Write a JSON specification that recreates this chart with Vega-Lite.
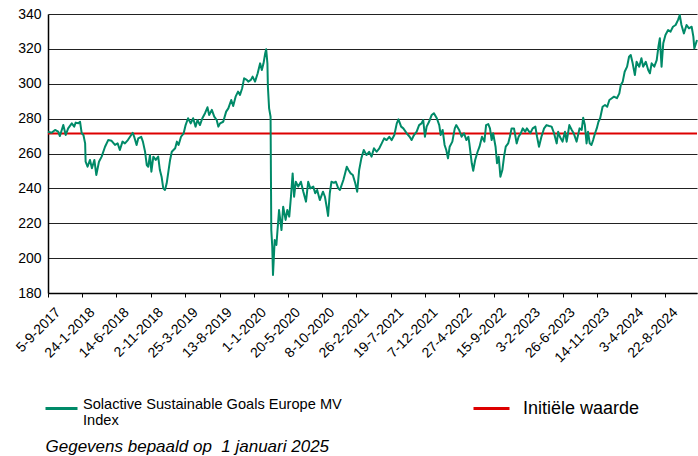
{
  "$schema": "https://vega.github.io/schema/vega-lite/v6.json",
  "width": 649,
  "height": 279,
  "autosize": "none",
  "padding": {"left": 48, "top": 14, "right": 1, "bottom": 163},
  "background": "white",
  "config": {
    "font": "Liberation Sans",
    "view": {"stroke": null}
  },
  "layer": [
    {
      "data": {"values": [{"label": "Initiële waarde", "value": 271.4}]},
      "mark": {"type": "rule", "strokeWidth": 2},
      "encoding": {
        "y": {
          "field": "value", "type": "quantitative",
          "scale": {"domain": [180, 340], "nice": false, "zero": false},
          "axis": {
            "values": [180, 200, 220, 240, 260, 280, 300, 320, 340],
            "title": null, "labelFontSize": 14, "labelColor": "#000", "labelPadding": 7,
            "tickSize": 0, "domainColor": "#000", "domainWidth": 1.5,
            "grid": true, "gridColor": "#222", "gridWidth": 1
          }
        },
        "color": {
          "field": "label", "type": "nominal",
          "scale": {"range": ["#DD0000"]},
          "legend": {
            "orient": "none", "legendX": 424, "legendY": 375, "title": null,
            "symbolType": "stroke", "symbolSize": 1296, "symbolStrokeWidth": 3,
            "labelFontSize": 18, "labelLimit": 300, "labelOffset": 12, "labelColor": "#000"
          }
        }
      }
    },
    {
      "data": {"values": [
        {"date": "2017-09-05", "value": 272.5},
        {"date": "2017-09-20", "value": 271.9},
        {"date": "2017-10-04", "value": 273.5},
        {"date": "2017-10-17", "value": 272.5},
        {"date": "2017-10-24", "value": 270.0},
        {"date": "2017-11-07", "value": 276.3},
        {"date": "2017-11-17", "value": 270.6},
        {"date": "2017-11-27", "value": 274.4},
        {"date": "2017-12-12", "value": 277.3},
        {"date": "2017-12-22", "value": 275.4},
        {"date": "2017-12-28", "value": 277.7},
        {"date": "2018-01-08", "value": 277.3},
        {"date": "2018-01-15", "value": 278.2},
        {"date": "2018-01-22", "value": 271.6},
        {"date": "2018-01-29", "value": 270.6},
        {"date": "2018-02-05", "value": 265.8},
        {"date": "2018-02-07", "value": 255.3},
        {"date": "2018-02-15", "value": 252.4},
        {"date": "2018-02-25", "value": 256.3},
        {"date": "2018-03-05", "value": 251.5},
        {"date": "2018-03-15", "value": 256.3},
        {"date": "2018-03-23", "value": 247.7},
        {"date": "2018-04-03", "value": 255.3},
        {"date": "2018-04-14", "value": 258.2},
        {"date": "2018-04-28", "value": 263.9},
        {"date": "2018-05-11", "value": 267.7},
        {"date": "2018-05-25", "value": 267.3},
        {"date": "2018-06-08", "value": 264.9},
        {"date": "2018-06-19", "value": 265.8},
        {"date": "2018-06-28", "value": 262.0},
        {"date": "2018-07-09", "value": 266.8},
        {"date": "2018-07-19", "value": 265.8},
        {"date": "2018-07-31", "value": 267.7},
        {"date": "2018-08-09", "value": 269.6},
        {"date": "2018-08-20", "value": 271.9},
        {"date": "2018-08-27", "value": 269.2},
        {"date": "2018-09-05", "value": 264.9},
        {"date": "2018-09-12", "value": 268.7},
        {"date": "2018-09-24", "value": 269.6},
        {"date": "2018-10-01", "value": 266.8},
        {"date": "2018-10-10", "value": 261.0},
        {"date": "2018-10-17", "value": 253.4},
        {"date": "2018-10-23", "value": 252.4},
        {"date": "2018-10-30", "value": 259.1},
        {"date": "2018-11-05", "value": 249.6},
        {"date": "2018-11-13", "value": 258.2},
        {"date": "2018-11-23", "value": 256.3},
        {"date": "2018-12-03", "value": 258.2},
        {"date": "2018-12-10", "value": 250.5},
        {"date": "2018-12-17", "value": 246.7},
        {"date": "2018-12-24", "value": 240.0},
        {"date": "2018-12-31", "value": 239.1},
        {"date": "2019-01-07", "value": 242.9},
        {"date": "2019-01-14", "value": 249.6},
        {"date": "2019-01-21", "value": 256.3},
        {"date": "2019-01-28", "value": 261.0},
        {"date": "2019-02-11", "value": 263.0},
        {"date": "2019-02-18", "value": 266.8},
        {"date": "2019-02-25", "value": 264.9},
        {"date": "2019-03-07", "value": 269.6},
        {"date": "2019-03-18", "value": 271.6},
        {"date": "2019-03-26", "value": 276.3},
        {"date": "2019-04-05", "value": 280.2},
        {"date": "2019-04-16", "value": 277.3},
        {"date": "2019-04-26", "value": 280.2},
        {"date": "2019-05-06", "value": 275.4},
        {"date": "2019-05-14", "value": 279.2},
        {"date": "2019-05-24", "value": 276.3},
        {"date": "2019-06-03", "value": 280.2},
        {"date": "2019-06-14", "value": 283.1},
        {"date": "2019-06-24", "value": 286.5},
        {"date": "2019-07-01", "value": 282.1},
        {"date": "2019-07-12", "value": 285.0},
        {"date": "2019-07-22", "value": 281.1},
        {"date": "2019-08-01", "value": 279.2},
        {"date": "2019-08-08", "value": 275.4},
        {"date": "2019-08-15", "value": 277.3},
        {"date": "2019-08-28", "value": 278.2},
        {"date": "2019-09-09", "value": 284.0},
        {"date": "2019-09-18", "value": 285.9},
        {"date": "2019-09-30", "value": 290.7},
        {"date": "2019-10-08", "value": 287.2},
        {"date": "2019-10-18", "value": 292.6},
        {"date": "2019-10-28", "value": 295.5},
        {"date": "2019-11-05", "value": 293.6},
        {"date": "2019-11-14", "value": 297.4},
        {"date": "2019-11-22", "value": 303.1},
        {"date": "2019-12-03", "value": 302.2},
        {"date": "2019-12-09", "value": 301.2},
        {"date": "2019-12-20", "value": 302.2},
        {"date": "2019-12-27", "value": 304.1},
        {"date": "2020-01-06", "value": 301.2},
        {"date": "2020-01-17", "value": 306.0},
        {"date": "2020-01-27", "value": 311.7},
        {"date": "2020-02-03", "value": 307.9},
        {"date": "2020-02-10", "value": 311.7},
        {"date": "2020-02-17", "value": 317.5},
        {"date": "2020-02-21", "value": 319.8},
        {"date": "2020-02-26", "value": 311.7},
        {"date": "2020-02-28", "value": 298.3},
        {"date": "2020-03-04", "value": 285.9},
        {"date": "2020-03-10", "value": 281.1},
        {"date": "2020-03-13", "value": 216.1},
        {"date": "2020-03-17", "value": 206.6},
        {"date": "2020-03-20", "value": 190.3},
        {"date": "2020-03-27", "value": 210.4},
        {"date": "2020-04-03", "value": 207.5},
        {"date": "2020-04-14", "value": 227.6},
        {"date": "2020-04-24", "value": 216.1},
        {"date": "2020-05-01", "value": 229.5},
        {"date": "2020-05-11", "value": 221.9},
        {"date": "2020-05-18", "value": 227.6},
        {"date": "2020-05-26", "value": 223.8},
        {"date": "2020-06-02", "value": 235.2},
        {"date": "2020-06-09", "value": 248.6},
        {"date": "2020-06-15", "value": 235.2},
        {"date": "2020-06-22", "value": 243.8},
        {"date": "2020-07-02", "value": 241.0},
        {"date": "2020-07-13", "value": 243.8},
        {"date": "2020-07-23", "value": 238.1},
        {"date": "2020-08-03", "value": 232.4},
        {"date": "2020-08-12", "value": 243.8},
        {"date": "2020-08-21", "value": 240.0},
        {"date": "2020-09-02", "value": 241.0},
        {"date": "2020-09-10", "value": 237.2},
        {"date": "2020-09-18", "value": 239.1},
        {"date": "2020-09-29", "value": 233.3},
        {"date": "2020-10-12", "value": 238.1},
        {"date": "2020-10-20", "value": 235.2},
        {"date": "2020-10-27", "value": 229.5},
        {"date": "2020-11-02", "value": 224.2},
        {"date": "2020-11-09", "value": 237.2},
        {"date": "2020-11-16", "value": 243.8},
        {"date": "2020-11-26", "value": 243.2},
        {"date": "2020-12-04", "value": 243.8},
        {"date": "2020-12-14", "value": 240.0},
        {"date": "2020-12-21", "value": 239.1},
        {"date": "2021-01-04", "value": 244.8},
        {"date": "2021-01-11", "value": 248.6},
        {"date": "2021-01-18", "value": 252.4},
        {"date": "2021-01-25", "value": 250.5},
        {"date": "2021-02-03", "value": 248.6},
        {"date": "2021-02-12", "value": 247.7},
        {"date": "2021-02-22", "value": 242.9},
        {"date": "2021-03-02", "value": 238.1},
        {"date": "2021-03-10", "value": 250.5},
        {"date": "2021-03-19", "value": 257.2},
        {"date": "2021-03-29", "value": 262.0},
        {"date": "2021-04-09", "value": 259.1},
        {"date": "2021-04-20", "value": 261.0},
        {"date": "2021-04-30", "value": 258.2},
        {"date": "2021-05-10", "value": 263.0},
        {"date": "2021-05-21", "value": 261.0},
        {"date": "2021-06-01", "value": 263.0},
        {"date": "2021-06-11", "value": 265.8},
        {"date": "2021-06-21", "value": 268.7},
        {"date": "2021-07-01", "value": 267.7},
        {"date": "2021-07-12", "value": 269.6},
        {"date": "2021-07-22", "value": 267.7},
        {"date": "2021-08-02", "value": 270.6},
        {"date": "2021-08-12", "value": 277.3},
        {"date": "2021-08-19", "value": 279.6},
        {"date": "2021-08-30", "value": 275.4},
        {"date": "2021-09-08", "value": 274.4},
        {"date": "2021-09-22", "value": 271.6},
        {"date": "2021-10-04", "value": 269.6},
        {"date": "2021-10-12", "value": 267.7},
        {"date": "2021-10-22", "value": 270.6},
        {"date": "2021-11-02", "value": 272.5},
        {"date": "2021-11-12", "value": 276.3},
        {"date": "2021-11-22", "value": 277.3},
        {"date": "2021-11-29", "value": 279.2},
        {"date": "2021-12-06", "value": 269.6},
        {"date": "2021-12-13", "value": 275.4},
        {"date": "2021-12-23", "value": 278.2},
        {"date": "2022-01-03", "value": 282.1},
        {"date": "2022-01-12", "value": 283.1},
        {"date": "2022-01-24", "value": 280.2},
        {"date": "2022-02-03", "value": 276.3},
        {"date": "2022-02-09", "value": 270.6},
        {"date": "2022-02-17", "value": 273.5},
        {"date": "2022-02-25", "value": 264.9},
        {"date": "2022-03-04", "value": 262.0},
        {"date": "2022-03-11", "value": 257.2},
        {"date": "2022-03-18", "value": 263.9},
        {"date": "2022-03-29", "value": 266.8},
        {"date": "2022-04-08", "value": 274.4},
        {"date": "2022-04-14", "value": 276.3},
        {"date": "2022-04-26", "value": 273.5},
        {"date": "2022-05-06", "value": 269.6},
        {"date": "2022-05-16", "value": 271.6},
        {"date": "2022-05-26", "value": 267.7},
        {"date": "2022-06-03", "value": 269.6},
        {"date": "2022-06-07", "value": 265.8},
        {"date": "2022-06-17", "value": 254.4},
        {"date": "2022-06-23", "value": 250.1},
        {"date": "2022-07-01", "value": 256.3},
        {"date": "2022-07-11", "value": 261.0},
        {"date": "2022-07-19", "value": 263.9},
        {"date": "2022-07-29", "value": 269.6},
        {"date": "2022-08-08", "value": 266.8},
        {"date": "2022-08-15", "value": 276.3},
        {"date": "2022-08-24", "value": 276.9},
        {"date": "2022-08-31", "value": 274.4},
        {"date": "2022-09-07", "value": 267.7},
        {"date": "2022-09-13", "value": 271.6},
        {"date": "2022-09-23", "value": 263.9},
        {"date": "2022-09-29", "value": 254.4},
        {"date": "2022-10-06", "value": 258.2},
        {"date": "2022-10-13", "value": 246.7},
        {"date": "2022-10-21", "value": 250.5},
        {"date": "2022-10-28", "value": 258.2},
        {"date": "2022-11-04", "value": 263.9},
        {"date": "2022-11-14", "value": 265.8},
        {"date": "2022-11-21", "value": 269.6},
        {"date": "2022-11-28", "value": 274.4},
        {"date": "2022-12-08", "value": 274.4},
        {"date": "2022-12-19", "value": 265.8},
        {"date": "2022-12-27", "value": 269.6},
        {"date": "2023-01-05", "value": 271.6},
        {"date": "2023-01-13", "value": 274.4},
        {"date": "2023-01-23", "value": 272.5},
        {"date": "2023-01-30", "value": 274.4},
        {"date": "2023-02-13", "value": 271.6},
        {"date": "2023-02-23", "value": 274.4},
        {"date": "2023-03-06", "value": 275.4},
        {"date": "2023-03-13", "value": 269.6},
        {"date": "2023-03-21", "value": 263.9},
        {"date": "2023-03-31", "value": 269.6},
        {"date": "2023-04-11", "value": 274.4},
        {"date": "2023-04-21", "value": 276.3},
        {"date": "2023-05-02", "value": 275.8},
        {"date": "2023-05-12", "value": 275.4},
        {"date": "2023-05-22", "value": 271.6},
        {"date": "2023-06-02", "value": 265.8},
        {"date": "2023-06-08", "value": 272.5},
        {"date": "2023-06-15", "value": 269.6},
        {"date": "2023-06-26", "value": 266.8},
        {"date": "2023-07-06", "value": 272.5},
        {"date": "2023-07-13", "value": 266.8},
        {"date": "2023-07-24", "value": 276.3},
        {"date": "2023-08-03", "value": 273.5},
        {"date": "2023-08-11", "value": 271.6},
        {"date": "2023-08-23", "value": 266.8},
        {"date": "2023-09-04", "value": 274.4},
        {"date": "2023-09-13", "value": 273.5},
        {"date": "2023-09-19", "value": 280.5},
        {"date": "2023-09-26", "value": 276.3},
        {"date": "2023-10-03", "value": 265.8},
        {"date": "2023-10-09", "value": 272.5},
        {"date": "2023-10-16", "value": 265.8},
        {"date": "2023-10-23", "value": 264.9},
        {"date": "2023-10-30", "value": 267.7},
        {"date": "2023-11-07", "value": 271.6},
        {"date": "2023-11-14", "value": 274.4},
        {"date": "2023-11-21", "value": 278.2},
        {"date": "2023-11-28", "value": 280.2},
        {"date": "2023-12-08", "value": 286.8},
        {"date": "2023-12-18", "value": 287.8},
        {"date": "2023-12-27", "value": 286.8},
        {"date": "2024-01-05", "value": 290.7},
        {"date": "2024-01-15", "value": 291.7},
        {"date": "2024-01-24", "value": 292.6},
        {"date": "2024-02-05", "value": 291.7},
        {"date": "2024-02-15", "value": 294.5},
        {"date": "2024-02-21", "value": 299.3},
        {"date": "2024-02-29", "value": 301.2},
        {"date": "2024-03-08", "value": 306.9},
        {"date": "2024-03-18", "value": 309.8},
        {"date": "2024-03-26", "value": 315.5},
        {"date": "2024-04-02", "value": 316.5},
        {"date": "2024-04-10", "value": 311.7},
        {"date": "2024-04-19", "value": 305.0},
        {"date": "2024-04-26", "value": 312.6},
        {"date": "2024-05-07", "value": 309.8},
        {"date": "2024-05-16", "value": 314.6},
        {"date": "2024-05-23", "value": 309.8},
        {"date": "2024-06-03", "value": 312.6},
        {"date": "2024-06-13", "value": 307.9},
        {"date": "2024-06-20", "value": 306.0},
        {"date": "2024-06-27", "value": 311.7},
        {"date": "2024-07-08", "value": 309.8},
        {"date": "2024-07-18", "value": 313.6},
        {"date": "2024-07-25", "value": 321.2},
        {"date": "2024-07-31", "value": 326.1},
        {"date": "2024-08-07", "value": 309.8},
        {"date": "2024-08-14", "value": 323.2},
        {"date": "2024-08-23", "value": 328.0},
        {"date": "2024-09-03", "value": 330.8},
        {"date": "2024-09-13", "value": 329.9},
        {"date": "2024-09-23", "value": 332.7},
        {"date": "2024-10-04", "value": 333.7},
        {"date": "2024-10-14", "value": 336.6},
        {"date": "2024-10-21", "value": 339.4},
        {"date": "2024-10-28", "value": 333.7},
        {"date": "2024-11-07", "value": 328.9},
        {"date": "2024-11-18", "value": 333.7},
        {"date": "2024-11-28", "value": 331.8},
        {"date": "2024-12-09", "value": 332.7},
        {"date": "2024-12-16", "value": 327.0},
        {"date": "2024-12-20", "value": 320.3},
        {"date": "2024-12-31", "value": 325.1}
      ]},
      "transform": [{"calculate": "'Solactive Sustainable Goals Europe MV Index'", "as": "series"}],
      "mark": {"type": "line", "strokeWidth": 2, "strokeJoin": "round"},
      "encoding": {
        "x": {
          "field": "date", "type": "temporal",
          "scale": {"type": "utc", "domain": [{"year": 2017, "month": 9, "date": 5, "utc": true}, {"year": 2024, "month": 12, "date": 31, "utc": true}]},
          "axis": {
            "values": [
              {"year": 2017, "month": 9, "date": 5, "utc": true},
              {"year": 2018, "month": 1, "date": 24, "utc": true},
              {"year": 2018, "month": 6, "date": 14, "utc": true},
              {"year": 2018, "month": 11, "date": 2, "utc": true},
              {"year": 2019, "month": 3, "date": 25, "utc": true},
              {"year": 2019, "month": 8, "date": 13, "utc": true},
              {"year": 2020, "month": 1, "date": 1, "utc": true},
              {"year": 2020, "month": 5, "date": 20, "utc": true},
              {"year": 2020, "month": 10, "date": 8, "utc": true},
              {"year": 2021, "month": 2, "date": 26, "utc": true},
              {"year": 2021, "month": 7, "date": 19, "utc": true},
              {"year": 2021, "month": 12, "date": 7, "utc": true},
              {"year": 2022, "month": 4, "date": 27, "utc": true},
              {"year": 2022, "month": 9, "date": 15, "utc": true},
              {"year": 2023, "month": 2, "date": 3, "utc": true},
              {"year": 2023, "month": 6, "date": 26, "utc": true},
              {"year": 2023, "month": 11, "date": 14, "utc": true},
              {"year": 2024, "month": 4, "date": 3, "utc": true},
              {"year": 2024, "month": 8, "date": 22, "utc": true}
            ],
            "labelExpr": "utcFormat(datum.value, '%-d-%-m-%Y')",
            "labelAngle": -45, "labelFontSize": 14, "labelColor": "#000", "labelPadding": 8, "labelOffset": 5,
            "labelOverlap": false, "labelFlush": false, "labelBound": false,
            "tickSize": 4, "tickColor": "#000", "tickWidth": 1,
            "domainColor": "#000", "domainWidth": 1.5,
            "grid": false,
            "title": "Gegevens bepaald op\u00a0 1 januari 2025",
            "titleFontStyle": "italic", "titleFontWeight": "normal", "titleFontSize": 17, "titleColor": "#000",
            "titleAnchor": "start", "titleAlign": "left", "titleBaseline": "middle",
            "titleX": -3, "titleY": 153
          }
        },
        "y": {
          "field": "value", "type": "quantitative",
          "scale": {"domain": [180, 340], "nice": false, "zero": false},
          "axis": {
            "values": [180, 200, 220, 240, 260, 280, 300, 320, 340],
            "title": null, "labelFontSize": 14, "labelColor": "#000", "labelPadding": 7,
            "tickSize": 0, "domainColor": "#000", "domainWidth": 1.5,
            "grid": true, "gridColor": "#222", "gridWidth": 1
          }
        },
        "color": {
          "field": "series", "type": "nominal",
          "scale": {"range": ["#008A68"]},
          "legend": {
            "orient": "none", "legendX": -4, "legendY": 377, "title": null,
            "symbolType": "stroke", "symbolSize": 1024, "symbolStrokeWidth": 3,
            "labelFontSize": 14.6, "labelLimit": 400, "labelOffset": 4, "labelColor": "#000",
            "labelBaseline": "alphabetic",
            "labelExpr": "['Solactive Sustainable Goals Europe MV', 'Index']"
          }
        }
      }
    }
  ],
  "resolve": {"scale": {"color": "independent"}}
}
